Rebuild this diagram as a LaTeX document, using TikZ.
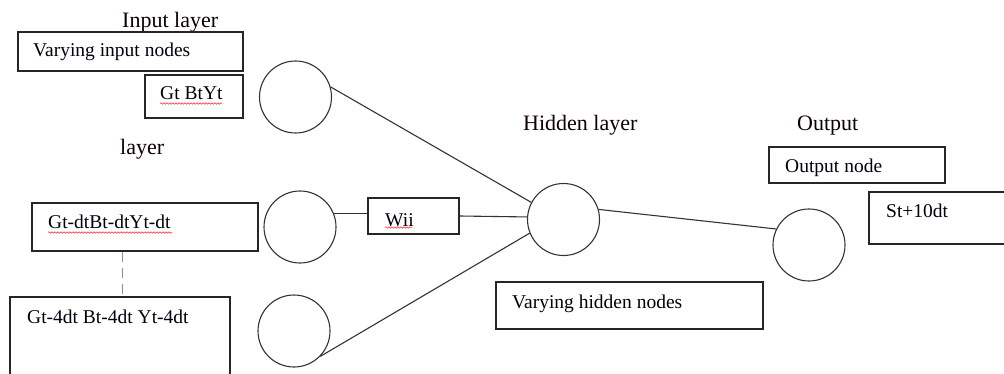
\documentclass[tikz,border=0pt]{standalone}
\usepackage{fontspec}
\setmainfont{Liberation Serif}
\usetikzlibrary{decorations.pathmorphing}
\begin{document}
\begin{tikzpicture}[x=1pt,y=-1pt,
  box/.style={draw=black!85,line width=1.2pt,rectangle,inner sep=0pt},
  neuron/.style={draw=black!80,line width=1.1pt,circle,minimum size=72pt,inner sep=0pt},
  conn/.style={draw=black!80,line width=1.1pt},
  txt/.style={inner sep=0pt,anchor=base west,font=\fontsize{19.5}{22}\selectfont,text=black!95!blue},
  head/.style={inner sep=0pt,anchor=base west,font=\fontsize{22}{26}\selectfont,text=black!95!red},
  spell/.style={draw=red!85,line width=0.5pt,decorate,decoration={snake,amplitude=0.8pt,segment length=3pt}}]
\useasboundingbox (0,0) rectangle (1004,374);
% headings
\node[head] (hin) at (122,28) {Input layer};
\node[head] (hlay) at (120,155) {layer};
\node[head] (hhid) at (523,131) {Hidden layer};
\node[head] (hout) at (797,131) {Output};
% boxes
\node[box,minimum width=225pt,minimum height=39pt] (bvin) at (130.5,51.5) {};
\node[txt] (tvin) at (33,57) {Varying input nodes};
\node[box,minimum width=98pt,minimum height=43pt] (bg1) at (194,96.5) {};
\node[txt] (tg1) at (160,100) {Gt BtYt};
\node[box,minimum width=226pt,minimum height=48pt] (bg2) at (145,227) {};
\node[txt] (tg2) at (48,229) {Gt-dtBt-dtYt-dt};
\node[box,minimum width=220pt,minimum height=100pt] (bg3) at (120,347) {};
\node[txt] (tg3) at (27,323) {Gt-4dt Bt-4dt Yt-4dt};
\node[box,minimum width=91pt,minimum height=36pt] (bw) at (413.5,216) {};
\node[txt] (tw) at (385,226) {Wii};
\node[box,minimum width=267pt,minimum height=47pt] (bvh) at (629.5,305.5) {};
\node[txt] (tvh) at (512,308) {Varying hidden nodes};
\node[box,minimum width=176pt,minimum height=36pt] (bon) at (857,165) {};
\node[txt] (ton) at (785,173) {Output node};
\node[box,minimum width=150pt,minimum height=52pt] (bst) at (944,218) {};
\node[txt] (tst) at (886,218) {St+10dt};
% spell-check underlines
\draw[spell] (160,103.5) -- (222,103.5);
\draw[spell] (48,232.5) -- (172,232.5);
\draw[spell] (385,227.5) -- (412,227.5);
% neurons
\node[neuron] (c1) at (295.5,97) {};
\node[neuron] (c2) at (300,227) {};
\node[neuron] (c3) at (294,331) {};
\node[neuron] (h) at (563.5,219.5) {};
\node[neuron] (o) at (809,245) {};
% connections
\draw[conn] (c1.16) -- (h.152);
\draw[conn] (c2.22) -- (c2.22 -| bw.west);
\draw[conn] (bw.east) -- (h.176);
\draw[conn] (c3.-44) -- (h.202);
\draw[conn] (h.16) -- (o.154);
\draw[draw=blue!35!gray!70,line width=0.9pt,dash pattern=on 10pt off 6pt] (bg2.south -| 122,0) -- (bg3.north -| 122,0);
\end{tikzpicture}
\end{document}
